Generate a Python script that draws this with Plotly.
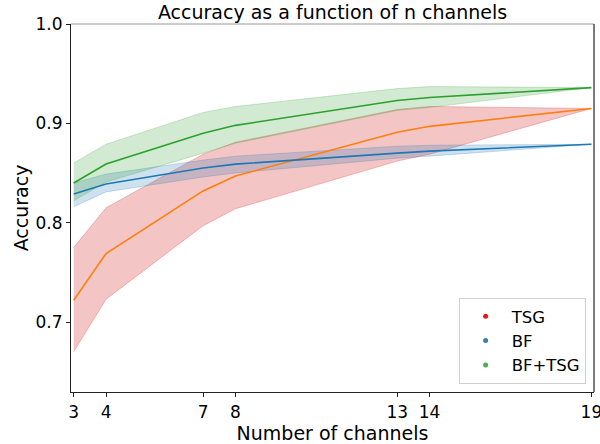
import plotly.graph_objects as go

# ---- data ----
channels = [3, 4, 7, 8, 13, 14, 19]

tsg_mean = [0.722, 0.769, 0.832, 0.847, 0.891, 0.897, 0.915]
tsg_low = [0.670, 0.723, 0.797, 0.814, 0.862, 0.869, 0.915]
tsg_high = [0.775, 0.815, 0.869, 0.881, 0.914, 0.917, 0.915]

bf_mean = [0.829, 0.839, 0.855, 0.859, 0.870, 0.872, 0.879]
bf_low = [0.816, 0.831, 0.846, 0.850, 0.865, 0.867, 0.879]
bf_high = [0.840, 0.849, 0.863, 0.867, 0.877, 0.878, 0.879]

bt_mean = [0.840, 0.859, 0.890, 0.898, 0.923, 0.926, 0.936]
bt_low = [0.822, 0.841, 0.870, 0.880, 0.913, 0.916, 0.936]
bt_high = [0.860, 0.879, 0.911, 0.917, 0.935, 0.937, 0.936]

legend_names = ["TSG", "BF", "BF+TSG"]
legend_colors = ["#e41a1c", "#377eb8", "#4daf4a"]

x_ticks = [3, 4, 7, 8, 13, 14, 19]
y_ticks = [0.7, 0.8, 0.9, 1.0]

FONT = "DejaVu Sans"

series = [
    (tsg_low, tsg_high, tsg_mean, "rgba(214,39,40,0.27)", "#ff7f0e"),
    (bf_low, bf_high, bf_mean, "rgba(31,119,180,0.22)", "#1f77b4"),
    (bt_low, bt_high, bt_mean, "rgba(44,160,44,0.22)", "#2ca02c"),
]

fig = go.Figure()

for low, high, mean, fill, line in series:
    fig.add_trace(go.Scatter(x=channels, y=low, mode="lines",
                             line=dict(color=fill, width=1),
                             showlegend=False, hoverinfo="skip"))
    fig.add_trace(go.Scatter(x=channels, y=high, mode="lines",
                             line=dict(color=fill, width=1),
                             fill="tonexty", fillcolor=fill,
                             showlegend=False, hoverinfo="skip"))

for low, high, mean, fill, line in series:
    fig.add_trace(go.Scatter(x=channels, y=mean, mode="lines",
                             line=dict(color=line, width=1.6),
                             showlegend=False))

for name, col in zip(legend_names, legend_colors):
    fig.add_trace(go.Scatter(x=[None], y=[None], mode="markers", name=name,
                             marker=dict(color=col, size=5)))

fig.update_layout(
    width=600, height=444,
    margin=dict(l=71, r=6, t=24, b=52, autoexpand=False),
    paper_bgcolor="white", plot_bgcolor="white",
    font=dict(family=FONT, color="#000000", size=17),
    title=dict(text="Accuracy as a function of n channels",
               x=0.5, xref="paper", xanchor="center",
               y=1 - 12 / 444, yref="container", yanchor="middle",
               font=dict(family=FONT, size=19, color="#000000")),
    showlegend=True,
    legend=dict(x=0.984, xanchor="right", y=0.022, yanchor="bottom",
                traceorder="normal",
                bgcolor="rgba(255,255,255,0.8)", bordercolor="#d0d0d0",
                borderwidth=1, font=dict(family=FONT, size=16.5),
                itemwidth=42, tracegroupgap=0),
    xaxis=dict(range=[2.917, 19.08], tickmode="array", tickvals=x_ticks,
               ticktext=[str(v) for v in x_ticks], automargin=False,
               showgrid=False, zeroline=False, showline=True,
               linecolor="#222222", linewidth=1.2,
               ticks="outside", ticklen=4, tickcolor="#222222",
               tickfont=dict(size=17), ticklabeloverflow="allow",
               title=dict(text="Number of channels", font=dict(size=19),
                          standoff=6)),
    yaxis=dict(range=[0.6296, 1.0], tickmode="array", tickvals=y_ticks,
               ticktext=["0.7", "0.8", "0.9", "1.0"], automargin=False,
               showgrid=False, zeroline=False, showline=True,
               linecolor="#222222", linewidth=1.2,
               ticks="outside", ticklen=4, tickcolor="#222222",
               tickfont=dict(size=17),
               title=dict(text="Accuracy", font=dict(size=19), standoff=1)),
    shapes=[
        dict(type="line", xref="paper", yref="paper", x0=0, x1=1, y0=1, y1=1,
             line=dict(color="#9a9a9a", width=1.2)),
        dict(type="line", xref="paper", yref="paper", x0=1, x1=1, y0=0, y1=1,
             line=dict(color="#222222", width=1.2)),
    ],
)

fig.write_html("out.html")
